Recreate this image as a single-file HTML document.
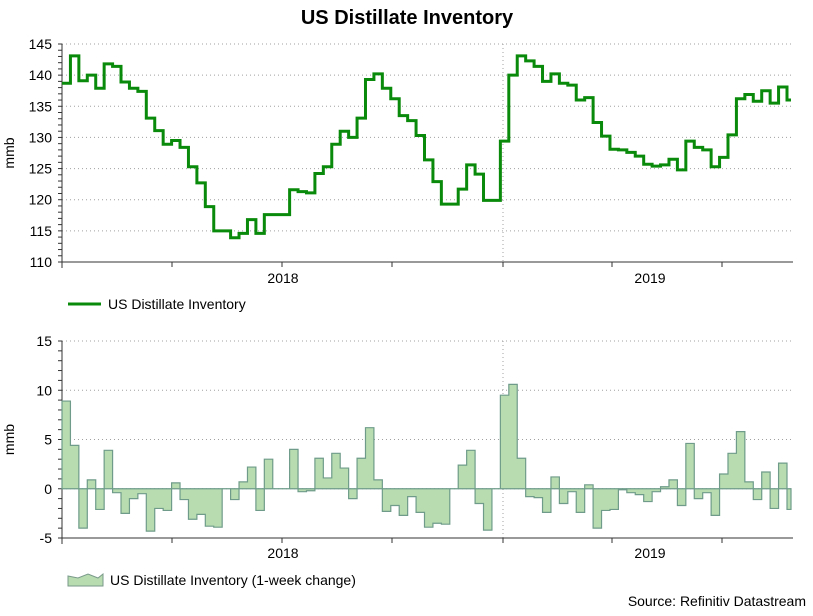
<!DOCTYPE html>
<html><head><meta charset="utf-8"><style>
body{margin:0;background:#fff;font-family:"Liberation Sans",Arial,sans-serif;}
svg text{font-family:"Liberation Sans",Arial,sans-serif;}
</style></head><body>
<svg id="c" width="813" height="611" xmlns="http://www.w3.org/2000/svg">
<text x="407" y="24" text-anchor="middle" font-size="20" font-weight="bold" fill="#000">US Distillate Inventory</text>
<g id="topPanel"></g>
<g id="botPanel"></g>
<g>
<line x1="68" y1="304" x2="101" y2="304" stroke="#0a8a0a" stroke-width="3"/>
<text x="108" y="309" font-size="14" fill="#000">US Distillate Inventory</text>
</g>
<g>
<path d="M68,586 L68,576 L78,578 L88,574 L98,578 L103,574 L103,586 Z" fill="#b8dcb0" stroke="#7a9a8a"/>
<text x="110" y="585" font-size="14" fill="#000">US Distillate Inventory (1-week change)</text>
</g>
<text x="806" y="606" text-anchor="end" font-size="14" fill="#000">Source: Refinitiv Datastream</text>
</svg>
<script>
const inventory=[138.7,143.1,139.1,140.0,137.9,141.8,141.4,138.9,137.9,137.4,133.1,131.1,128.9,129.5,128.4,125.3,122.7,118.9,115.0,115.0,113.9,114.6,116.8,114.6,117.6,117.6,117.6,121.6,121.3,121.1,124.2,125.3,128.9,131.0,130.0,133.1,139.3,140.2,137.9,136.2,133.5,132.7,130.3,126.4,122.9,119.3,119.3,121.7,125.6,124.1,119.9,119.9,129.4,140.0,143.1,142.3,141.4,139.0,140.2,138.7,138.4,136.0,136.4,132.4,130.2,128.1,128.0,127.6,127.0,125.7,125.4,125.6,126.5,124.8,129.4,128.4,128.0,125.3,126.8,130.4,136.2,136.9,135.8,137.5,135.5,138.1,136.0];
const change=[8.9,4.4,-4.0,0.9,-2.1,3.9,-0.4,-2.5,-1.0,-0.5,-4.3,-2.0,-2.2,0.6,-1.1,-3.1,-2.6,-3.8,-3.9,0.0,-1.1,0.7,2.2,-2.2,3.0,0,0,4.0,-0.3,-0.2,3.1,1.1,3.6,2.1,-1.0,3.1,6.2,0.9,-2.3,-1.7,-2.7,-0.8,-2.4,-3.9,-3.5,-3.6,0,2.4,3.9,-1.5,-4.2,0,9.5,10.6,3.1,-0.8,-0.9,-2.4,1.2,-1.5,-0.3,-2.4,0.4,-4.0,-2.2,-2.1,-0.1,-0.4,-0.6,-1.3,-0.3,0.2,0.9,-1.7,4.6,-1.0,-0.4,-2.7,1.5,3.6,5.8,0.7,-1.1,1.7,-2.0,2.6,-2.1];
const topTicks=[110,115,120,125,130,135,140,145];
const botTicks=[-5,0,5,10,15];
const yearLabels=["2018","2019"];
const NS="http://www.w3.org/2000/svg";
const X0=62,X1=791;
const stepW=(787-62)/(inventory.length-1);
function xs(i){return X0+i*stepW;}
function mk(p,t,a){const e=document.createElementNS(NS,t);for(const k in a)e.setAttribute(k,a[k]);p.appendChild(e);return e;}
const tickXs=[172,282,392,503,612,722];
const labelXs=[283,650];
function panel(g,y0,y1,vmin,vmax,ticks,minorStep,ty){
  const ys=v=>y1-(v-vmin)/(vmax-vmin)*(y1-y0);
  ticks.forEach(t=>{
    if(t!==vmin){const l=mk(g,'line',{x1:X0,x2:X1,y1:ys(t),y2:ys(t),stroke:'#a0a0a0','stroke-dasharray':'1 3'});
    
    }
    const tx=mk(g,'text',{x:52,y:ys(t)+5,'text-anchor':'end','font-size':14,fill:'#000'});tx.textContent=t;
    
    
  });
  for(let v=vmin;v<=vmax+1e-9;v+=minorStep){mk(g,'line',{x1:X0-4,x2:X0,y1:ys(v),y2:ys(v),stroke:'#333'});}
  const vg=mk(g,'line',{x1:503,x2:503,y1:y0,y2:y1,stroke:'#a0a0a0','stroke-dasharray':'1 3'});
  
  
  mk(g,'line',{x1:X0,x2:X0,y1:y0,y2:ys(vmin)+6,stroke:'#333'});
  mk(g,'line',{x1:X0,x2:X1+2,y1:ys(vmin),y2:ys(vmin),stroke:'#333'});
  tickXs.forEach(x=>mk(g,'line',{x1:x,x2:x,y1:ys(vmin),y2:ys(vmin)+5,stroke:'#333'}));
  yearLabels.forEach((s,i)=>{const t=mk(g,'text',{x:labelXs[i],y:ty,'text-anchor':'middle','font-size':14,fill:'#000'});t.textContent=s;
    
    });
  const yt=mk(g,'text',{x:0,y:0,'text-anchor':'middle','font-size':14,fill:'#000',transform:`translate(14,${(y0+y1)/2}) rotate(-90)`});yt.textContent='mmb';
  
  
  return ys;
}
const topG=document.getElementById('topPanel'),botG=document.getElementById('botPanel');
const yT=panel(topG,44,262,110,145,topTicks,1,283);
const yB=panel(botG,341,538,-5,15,botTicks,1,558);
function stepPath(arr,ys){let d='';arr.forEach((v,i)=>{const x=xs(i),y=ys(v);if(i===0)d+=`M${x},${y}`;else d+=`H${x}V${y}`;});d+=`H${xs(arr.length-1)+4}`;return d;}
const ln=mk(topG,'path',{d:stepPath(inventory,yT),fill:'none',stroke:'#0a8a0a','stroke-width':3});


const z=yB(0);
const ad=`M${X0},${z}V${yB(change[0])}`+stepPath(change,yB).replace(/^M[^H]*/,'')+`V${z}Z`;
const ar=mk(botG,'path',{d:ad,fill:'#b8dcb0',stroke:'#6f9c8a','stroke-width':1.2});


</script>
</body></html>
